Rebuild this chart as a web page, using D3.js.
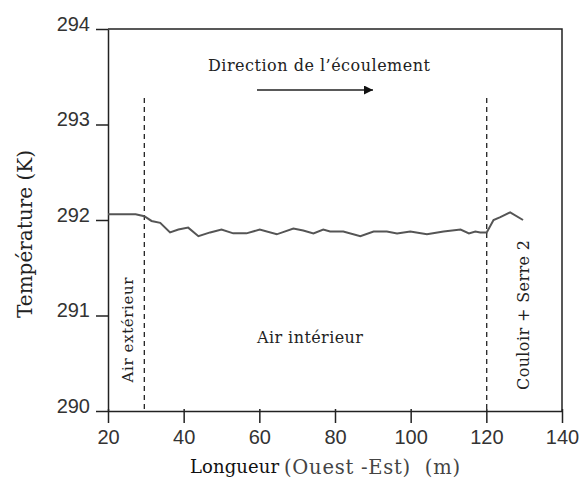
<!DOCTYPE html>
<html>
<head>
<meta charset="utf-8">
<script src="https://cdn.jsdelivr.net/npm/d3@7"></script>
<style>
  body { margin: 0; background: #fff; }
  svg { display: block; }
</style>
</head>
<body>
<svg id="chart" width="582" height="486"></svg>
<script>
// longueur (m) et température (K)
const longueur = [20, 27.3, 29.6, 31.5, 33.8, 36.4, 38.6, 41.2, 43.9, 47, 50, 53.1, 56.6, 60.1,
    64.6, 69, 71.6, 74.3, 76.9, 78.7, 82.2, 86.7, 90.2, 93.7, 96.4, 99.9, 104.3, 108.7,
    113.2, 115.4, 117.1, 118.4, 120.1, 121.9, 123.7, 126.3, 129.7];
const temperature = [292.06, 292.06, 292.04, 291.99, 291.97, 291.87, 291.90, 291.92, 291.83,
    291.87, 291.90, 291.86, 291.86, 291.90, 291.85, 291.91, 291.89, 291.86, 291.90, 291.88,
    291.88, 291.83, 291.88, 291.88, 291.86, 291.88, 291.85, 291.88, 291.90, 291.86, 291.88,
    291.87, 291.87, 292.0, 292.03, 292.08, 292.0];
const xTicks = [20, 40, 60, 80, 100, 120, 140];
const yTicks = [290, 291, 292, 293, 294];
const separations = [29.6, 120.1];

const svg = d3.select("#chart");
const dims = { left: 108, right: 562, top: 29, bottom: 411 };

let x = d3.scaleLinear().domain([20, 140]).range([dims.left, dims.right]);
let y = d3.scaleLinear().domain([290, 294]).range([dims.bottom, dims.top]);

const sans = "'Liberation Sans', Arial, sans-serif";
const serif = "'DejaVu Serif', serif";

// cadre (haut et droite)
svg.append("path")
    .attr("d", "M" + dims.left + "," + dims.top + "H" + dims.right + "V" + dims.bottom)
    .attr("fill", "none")
    .attr("stroke", "#222")
    .attr("stroke-width", 1.5);

let gy = svg.append("g")
    .attr("transform", "translate(" + dims.left + ",0)")
    .call(d3.axisLeft(y).tickValues(yTicks).tickSize(12).tickSizeOuter(0).tickPadding(6).tickFormat(d3.format("d")));
gy.select(".domain").attr("stroke", "#222").attr("stroke-width", 1.5);
gy.selectAll(".tick line").attr("stroke", "#222").attr("stroke-width", 1.5);
gy.selectAll(".tick text")
    .attr("font-family", sans)
    .attr("font-size", 20)
    .attr("fill", "#333")
    .attr("dy", "0.05em");

let gx = svg.append("g")
    .attr("transform", "translate(0," + dims.bottom + ")")
    .call(d3.axisBottom(x).tickValues(xTicks).tickSize(12).tickSizeOuter(0).tickPadding(7));
gx.select(".domain").attr("stroke", "#222").attr("stroke-width", 1.5);
gx.selectAll(".tick line").attr("stroke", "#222").attr("stroke-width", 1.5).attr("y1", -2);
gx.selectAll(".tick text")
    .attr("font-family", sans)
    .attr("font-size", 20)
    .attr("fill", "#333");

// séparations en pointillés
svg.selectAll(".sep")
    .data(separations)
    .enter()
    .append("line")
    .attr("x1", d => x(d))
    .attr("x2", d => x(d))
    .attr("y1", 98)
    .attr("y2", dims.bottom)
    .attr("stroke", "#222")
    .attr("stroke-width", 1.3)
    .attr("stroke-dasharray", "5,4");

// courbe de température
svg.append("path")
    .datum(longueur.map((d, i) => [d, temperature[i]]))
    .attr("fill", "none")
    .attr("stroke", "#555")
    .attr("stroke-width", 2)
    .attr("d", d3.line()
        .x(d => x(d[0]))
        .y(d => y(d[1]))
    );

// textes : largeurs
function label(txt, size, len, color) {
    return svg.append("text")
        .attr("font-family", serif)
        .attr("font-size", size)
        .attr("fill", color || "#222")
        .attr("textLength", len)
        .attr("lengthAdjust", "spacing")
        .style("white-space", "pre")
        .text(txt);
}

label("Longueur", 18, 89, "#111").attr("x", 190).attr("y", 473);
label("(Ouest -Est)  (m)", 19.5, 176, "#444").attr("x", 284).attr("y", 474);

label("Température (K)", 20, 168, "#222")
    .attr("text-anchor", "middle")
    .attr("transform", "translate(32,234) rotate(-90)");

label("Direction de l’écoulement", 16, 222)
    .attr("x", 208).attr("y", 71);

// flèche
svg.append("defs").append("marker")
    .attr("id", "fleche")
    .attr("viewBox", "0 0 10 10")
    .attr("refX", 10).attr("refY", 5)
    .attr("markerWidth", 12).attr("markerHeight", 9)
    .attr("markerUnits", "userSpaceOnUse")
    .attr("orient", "auto")
    .append("path")
    .attr("d", "M0,0L10,5L0,10Z")
    .attr("fill", "#111");
svg.append("line")
    .attr("x1", 257).attr("x2", 373)
    .attr("y1", 90).attr("y2", 90)
    .attr("stroke", "#222")
    .attr("stroke-width", 1.5)
    .attr("marker-end", "url(#fleche)");

label("Air intérieur", 16, 106).attr("x", 257).attr("y", 343);

label("Air extérieur", 15, 105)
    .attr("text-anchor", "middle")
    .attr("transform", "translate(133,330) rotate(-90)");

label("Couloir + Serre 2", 16, 150)
    .attr("text-anchor", "middle")
    .attr("transform", "translate(529,315) rotate(-90)");
</script>
</body>
</html>
